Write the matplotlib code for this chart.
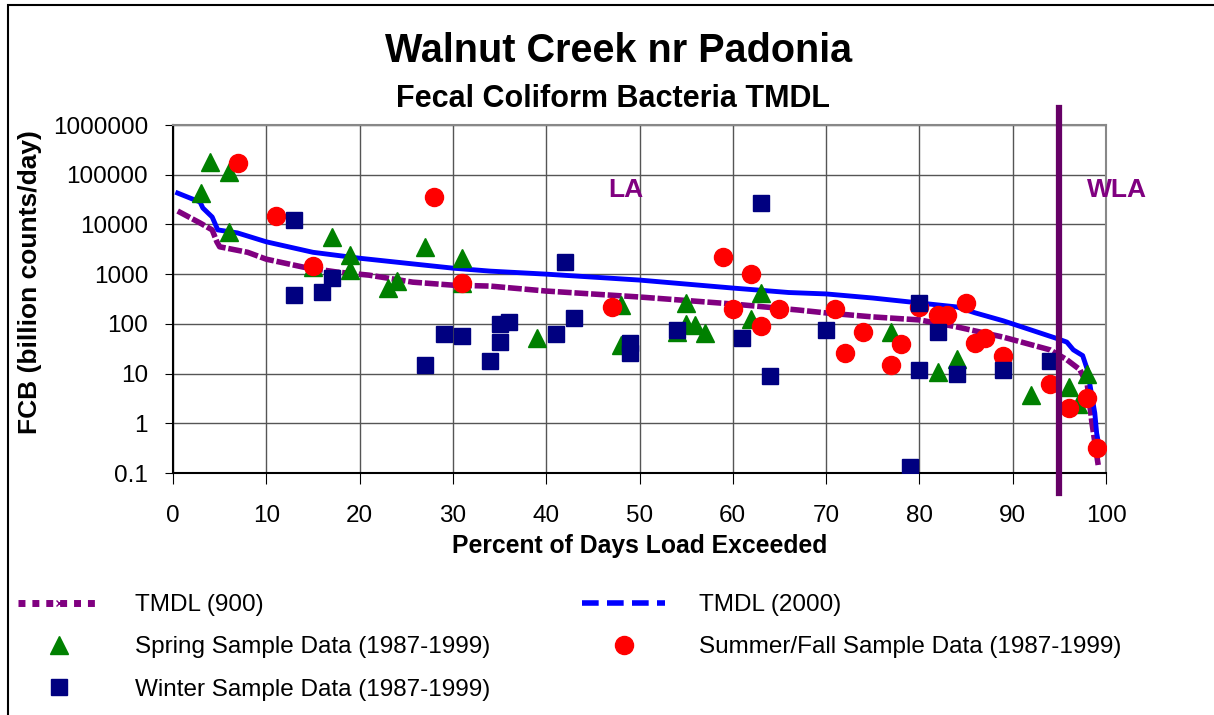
import matplotlib
matplotlib.use("Agg")
from matplotlib import pyplot as plt
from matplotlib.lines import Line2D
from matplotlib.patches import Rectangle
from matplotlib.ticker import FixedLocator, FixedFormatter
import matplotlib.transforms as mtransforms

plt.rcParams['font.family'] = ['Liberation Sans', 'DejaVu Sans']

# flow duration curves (percent of days exceeded vs load)
tmdl2000_x = [0.5, 2.9, 3.2, 4.2, 4.8, 6.9, 10, 15, 20, 25, 30, 34, 40, 50, 60, 66, 70,
              75, 80, 84, 86, 89, 94.7, 95.8, 96.5, 97.5, 98, 98.5, 98.8, 99, 99.2]
tmdl2000_y = [42700, 28200, 21400, 14100, 7760, 6760, 4470, 2750, 2090, 1660, 1320, 1150,
              1000, 760, 525, 427, 400, 331, 263, 219, 166, 115, 51, 43, 30, 23, 12, 3.4,
              1.6, 0.63, 0.4]

tmdl900_x = [0.5, 2.9, 4.2, 4.7, 5, 8, 10, 14, 17.6, 21, 25.7, 30, 34, 40, 50, 60, 67, 70,
             75, 80, 84, 89, 94, 95.8, 97.2, 98, 98.5, 99.2]
tmdl900_y = [18600, 10700, 7760, 4470, 3550, 2750, 2000, 1380, 1100, 955, 690, 600, 575,
             457, 347, 251, 190, 166, 138, 120, 87, 54, 30, 19, 12, 5.9, 1.0, 0.13]

# sample data
spring_x = [3, 4, 6, 6, 15, 17, 19, 19, 23, 24, 27, 31, 31, 39, 48, 48, 54, 55, 55, 56, 57,
            62, 63, 77, 82, 84, 92, 96, 97, 98]
spring_y = [43000, 180000, 113000, 7000, 1400, 5600, 2400, 1200, 520, 720, 3500, 2100, 650,
            51, 240, 37, 70, 260, 100, 95, 65, 125, 420, 68, 11, 20, 3.7, 5.4, 2.5, 9.8]

summer_x = [7, 11, 15, 28, 31, 47, 59, 60, 62, 63, 65, 71, 72, 74, 77, 78, 80, 82, 83, 85,
            86, 87, 89, 94, 96, 98, 99]
summer_y = [172000, 15000, 1450, 35000, 660, 220, 2200, 200, 1000, 90, 200, 200, 26, 69, 15,
            39, 220, 150, 150, 260, 41, 51, 23, 6.2, 2.0, 3.2, 0.32]

winter_x = [13, 13, 16, 17, 27, 29, 31, 34, 35, 35, 36, 41, 42, 43, 49, 49, 54, 61, 63, 64,
            70, 79, 80, 80, 82, 84, 89, 94]
winter_y = [12000, 380, 430, 830, 15, 62, 57, 18, 100, 43, 110, 62, 1750, 130, 41, 26, 75,
            51, 27000, 9, 75, 0.13, 260, 12, 69, 10, 12, 18]

wla_split = 95
yticks = [0.1, 1, 10, 100, 1000, 10000, 100000, 1000000]
ytick_labels = ['0.1', '1', '10', '100', '1000', '10000', '100000', '1000000']

fig = plt.figure(figsize=(12.14, 7.15), dpi=100)
ax = fig.add_axes([173/1214, 1-473/715, (1106-173)/1214, (473-125)/715])

ax.set_yscale('log')
ax.set_xlim(0, 100)
ax.set_ylim(0.1, 1000000)

ax.set_xticks(range(0, 101, 10))
ax.yaxis.set_major_locator(FixedLocator(yticks))
ax.yaxis.set_major_formatter(FixedFormatter(ytick_labels))
ax.yaxis.set_minor_locator(FixedLocator([]))
ax.tick_params(axis='x', direction='out', length=8, pad=15, labelsize=17.5)
ax.tick_params(axis='y', direction='out', length=6, pad=12, labelsize=17.5)
ax.grid(True, color='#555555', lw=1)
ax.set_axisbelow(True)
for s in ['top', 'right']:
    ax.spines[s].set_color('#888888')
    ax.spines[s].set_linewidth(1.5)
for s in ['left', 'bottom']:
    ax.spines[s].set_linewidth(1.5)

ax.plot(tmdl900_x, tmdl900_y, color='#800080', lw=4, ls=(0, (2.5, 0.5)), zorder=3)
ax.plot(tmdl2000_x, tmdl2000_y, color='#0000FF', lw=3.5, zorder=3)

ax.plot(spring_x, spring_y, ls='none', marker='^', ms=13, color='#008000', zorder=4)
ax.plot(summer_x, summer_y, ls='none', marker='o', ms=13, color='#FF0000', zorder=5)
ax.plot(winter_x, winter_y, ls='none', marker='s', ms=12, color='#000080', zorder=6)

# LA / WLA boundary
trans = mtransforms.blended_transform_factory(ax.transData, ax.transAxes)
ax.plot([wla_split, wla_split], [-0.057, 1.049], transform=trans, color='#660066',
        lw=4.5, clip_on=False, zorder=7)
ax.text(48.5, 0.813, 'LA', transform=trans, color='#800080', fontsize=19,
        fontweight='bold', ha='center', va='center')
ax.text(1.012, 0.813, 'WLA', transform=ax.transAxes, color='#800080', fontsize=19,
        fontweight='bold', ha='center', va='center', clip_on=False)

fig.text(619/1214, 1-51/715, 'Walnut Creek nr Padonia', fontsize=28.5, fontweight='bold',
         ha='center', va='center')
fig.text(613/1214, 1-99/715, 'Fecal Coliform Bacteria TMDL', fontsize=22, fontweight='bold',
         ha='center', va='center')
fig.text(640/1214, 1-546/715, 'Percent of Days Load Exceeded', fontsize=17.8,
         fontweight='bold', ha='center', va='center')
fig.text(30/1214, 1-282/715, 'FCB (billion counts/day)', fontsize=19, fontweight='bold',
         ha='center', va='center', rotation=90)

handles = [
    Line2D([], [], color='#800080', lw=5, ls=(0, (1, 1)), marker='x', ms=5),
    Line2D([], [], ls='none', marker='^', ms=13, color='#008000'),
    Line2D([], [], ls='none', marker='s', ms=12, color='#000080'),
    Line2D([], [], color='#0000FF', lw=4, ls=(0, (3, 1.5))),
    Line2D([], [], ls='none', marker='o', ms=13, color='#FF0000'),
]
labels = ['TMDL (900)', 'Spring Sample Data (1987-1999)', 'Winter Sample Data (1987-1999)',
          'TMDL (2000)', 'Summer/Fall Sample Data (1987-1999)']
fig.legend(handles, labels, ncol=2, frameon=False, fontsize=17.5, loc='upper left',
           bbox_to_anchor=(18/1214, 1-594/715), handlelength=3.4, handletextpad=1.4,
           columnspacing=3.8, labelspacing=0.84, borderpad=0, borderaxespad=0,
           numpoints=1)

fig.patches.append(Rectangle((8/1214, -0.1), 1.2, 1.1 - 5/715, transform=fig.transFigure,
                             fill=False, edgecolor='black', lw=1.5))

fig.savefig('out.png', dpi=100)
